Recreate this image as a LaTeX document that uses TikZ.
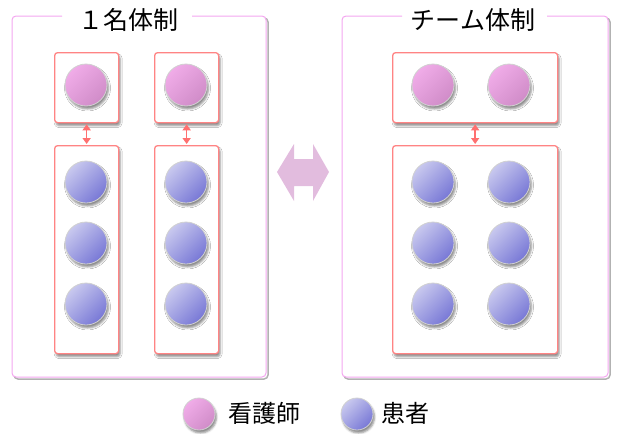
\documentclass[tikz,border=0pt]{standalone}
\usepackage{fontspec}
\newfontfamily\jp{Noto Sans CJK JP}
\usetikzlibrary{shadows.blur,arrows.meta}
\definecolor{framec}{HTML}{F4A6F0}
\definecolor{boxc}{HTML}{FF8484}
\definecolor{nurseA}{HTML}{F0ACE8}
\definecolor{nurseB}{HTML}{D08CC8}
\definecolor{patA}{HTML}{C8C8EE}
\definecolor{patB}{HTML}{7878D6}
\definecolor{bigarrow}{HTML}{E2BCDE}
\tikzset{
  x=1pt, y=-1pt,
  group/.style={draw=boxc, line width=1.3pt, rounded corners=3pt, fill=white,
    blur shadow={shadow xshift=1.5pt, shadow yshift=-3pt, shadow blur steps=4, shadow opacity=45, shadow blur radius=2pt},
    inner sep=0pt, anchor=north west},
  dot/.style={circle, minimum size=42pt, inner sep=0pt, draw=white!82!black, line width=0.8pt,
    blur shadow={shadow xshift=1.5pt, shadow yshift=-3pt, shadow blur steps=4, shadow opacity=45, shadow blur radius=2pt}},
  nurse/.style={dot, top color=nurseA, bottom color=nurseB, shading angle=45},
  patient/.style={dot, top color=patA, bottom color=patB, shading angle=45},
  small/.style={minimum size=32pt},
  link/.style={draw=boxc!85!red, line width=1.5pt, {Triangle[length=6pt,width=8pt]}-{Triangle[length=6pt,width=8pt]}, shorten >=1pt, shorten <=1pt},
  frame/.style={draw=framec, line width=1pt, rounded corners=4pt},
  frameshadow/.style={draw=black!30, line width=1.5pt, rounded corners=4pt},
  title/.style={font=\jp\fontsize{25}{28}\selectfont, inner sep=0pt},
  legend/.style={font=\jp\fontsize{24}{28}\selectfont, inner sep=0pt, anchor=west},
}
\begin{document}
\begin{tikzpicture}
\useasboundingbox (0,0) rectangle (619,434);
% frames
\draw[frameshadow] (63,18) -- (14,18) -- (14,379) -- (268,379) -- (268,18) -- (193,18);
\draw[frame,fill=white] (62,16) -- (12,16) -- (12,377) -- (266,377) -- (266,16) -- (192,16);
\draw[frameshadow] (403,18) -- (344,18) -- (344,379) -- (610,379) -- (610,18) -- (548,18);
\draw[frame,fill=white] (402,16) -- (342,16) -- (342,377) -- (608,377) -- (608,16) -- (547,16);
\node[title] (t1) at (128,20) {１名体制};
\node[title] (t2) at (473,20) {チーム体制};
% left: one-to-one
\node[group, minimum width=64pt, minimum height=70pt] (g1) at (54,52) {};
\node[group, minimum width=64pt, minimum height=70pt] (g2) at (154,52) {};
\node[group, minimum width=64pt, minimum height=208pt] (h1) at (54,145) {};
\node[group, minimum width=64pt, minimum height=208pt] (h2) at (154,145) {};
\node[nurse] (n1) at (86,85) {};
\node[nurse] (n2) at (186,85) {};
\foreach \c/\y in {1/182,2/243,3/304}{
  \node[patient] (pa\c) at (86,\y) {};
  \node[patient] (pb\c) at (186,\y) {};
}
\draw[link] (g1.south) -- (h1.north);
\draw[link] (g2.south) -- (h2.north);
% right: team
\node[group, minimum width=165pt, minimum height=70pt] (g3) at (392,52) {};
\node[group, minimum width=165pt, minimum height=208pt] (h3) at (392,145) {};
\node[nurse] (n3) at (433,85) {};
\node[nurse] (n4) at (509,85) {};
\foreach \c/\y in {1/182,2/243,3/304}{
  \node[patient] (pc\c) at (433,\y) {};
  \node[patient] (pd\c) at (509,\y) {};
}
\draw[link] (g3.south) -- (h3.north);
% big double arrow
\fill[bigarrow] (277,172) -- (294,144) -- (294,159) -- (313,159) -- (313,144) -- (329,172)
  -- (313,201) -- (313,186) -- (294,186) -- (294,201) -- cycle;
% legend
\node[nurse, small] (ln) at (199,414) {};
\node[legend] (lnt) at (228,413) {看護師};
\node[patient, small] (lp) at (357,414) {};
\node[legend] (lpt) at (381,413) {患者};
\end{tikzpicture}
\end{document}
